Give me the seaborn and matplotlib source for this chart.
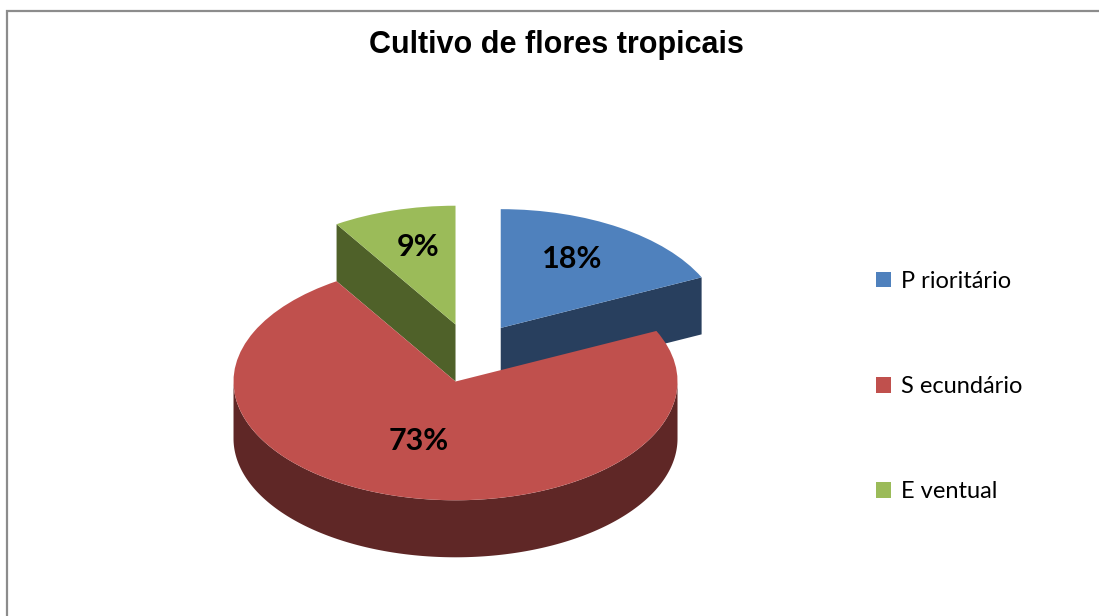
import numpy as np
import matplotlib
matplotlib.use("Agg")
import matplotlib.pyplot as plt
import seaborn as sns

# data
categories = ["P rioritário", "S ecundário", "E ventual"]
shares = [18, 73, 9]
title = "Cultivo de flores tropicais"

# colours: top faces and the darker side walls
top_colors = sns.color_palette(["#4F81BD", "#C0504D", "#9BBB59"])
side_colors = sns.color_palette(["#283F5E", "#5F2726", "#4F6129"])

# layout (pixels)
W, H, DPI = 1099, 616, 100
CX, CY = 471, 353        # pie centre before explode
RX = 222                 # horizontal radius
SQUASH = 0.535           # vertical / horizontal radius
DEPTH = 0.48             # wall height in squashed radius units
EXPLODE = 0.25

sns.set_theme(style="white")
plt.rcParams["font.family"] = ["Lato", "DejaVu Sans"]
plt.rcParams["text.color"] = "black"

fig = plt.figure(figsize=(W / DPI, H / DPI), dpi=DPI)
ax = fig.add_axes([0, 0, 1, 1])

wedges, _, pct_texts = ax.pie(
    shares, colors=top_colors, explode=[EXPLODE] * len(shares),
    startangle=90, counterclock=False, autopct="%1.0f%%", pctdistance=0.6,
    wedgeprops=dict(linewidth=0, zorder=3),
    textprops=dict(fontsize=22, fontweight="bold", color="black", zorder=5),
)
for t in pct_texts:
    t.set_verticalalignment("baseline")

# squash the pie into an ellipse
ax.set_aspect("auto")
ry = RX * SQUASH
ax.set_xlim(-CX / RX, (W - CX) / RX)
ax.set_ylim((CY - H) / ry, CY / ry)
ax.axis("off")

# fake 3D: side walls under each wedge
for w, c in zip(wedges, side_colors):
    cx, cy = w.center
    t1, t2 = np.radians(w.theta1), np.radians(w.theta2)
    # radial cut faces that turn towards the viewer
    for t, n in ((t1, t1 - np.pi / 2), (t2, t2 + np.pi / 2)):
        if np.sin(n) < -1e-6:
            ex, ey = cx + np.cos(t), cy + np.sin(t)
            ax.fill([cx, ex, ex, cx], [cy, ey, ey - DEPTH, cy - DEPTH],
                    color=c, lw=0, zorder=1)
    # outer rim, front half only
    for k in range(-2, 2):
        lo = max(t1, np.pi + 2 * np.pi * k)
        hi = min(t2, 2 * np.pi + 2 * np.pi * k)
        if hi > lo:
            t = np.linspace(lo, hi, 300)
            xs = cx + np.cos(t)
            ys = cy + np.sin(t)
            ax.fill(np.r_[xs, xs[::-1]], np.r_[ys, (ys - DEPTH)[::-1]],
                    color=c, lw=0, zorder=2)

ax.legend(wedges, categories, loc="center left",
          bbox_to_anchor=(876 / W, 1 - 386.5 / H), bbox_transform=fig.transFigure,
          frameon=False, fontsize=17, handlelength=0.64, handleheight=0.64,
          handletextpad=0.4, labelspacing=3.57, borderpad=0, borderaxespad=0,
          labelcolor="black")

fig.text(556 / W, 1 - 53 / H, title, ha="center", va="baseline",
         fontsize=22, fontweight="bold", family="Liberation Sans", color="black")

# chart frame (runs off the right and bottom edges)
fig.add_artist(plt.Rectangle((7 / W, -0.05), 1.1, 1 - 11 / H + 0.05,
                             transform=fig.transFigure, fill=False,
                             ec="#8C8C8C", lw=1.6, zorder=10))

fig.savefig("out.png", dpi=DPI)
plt.close(fig)
